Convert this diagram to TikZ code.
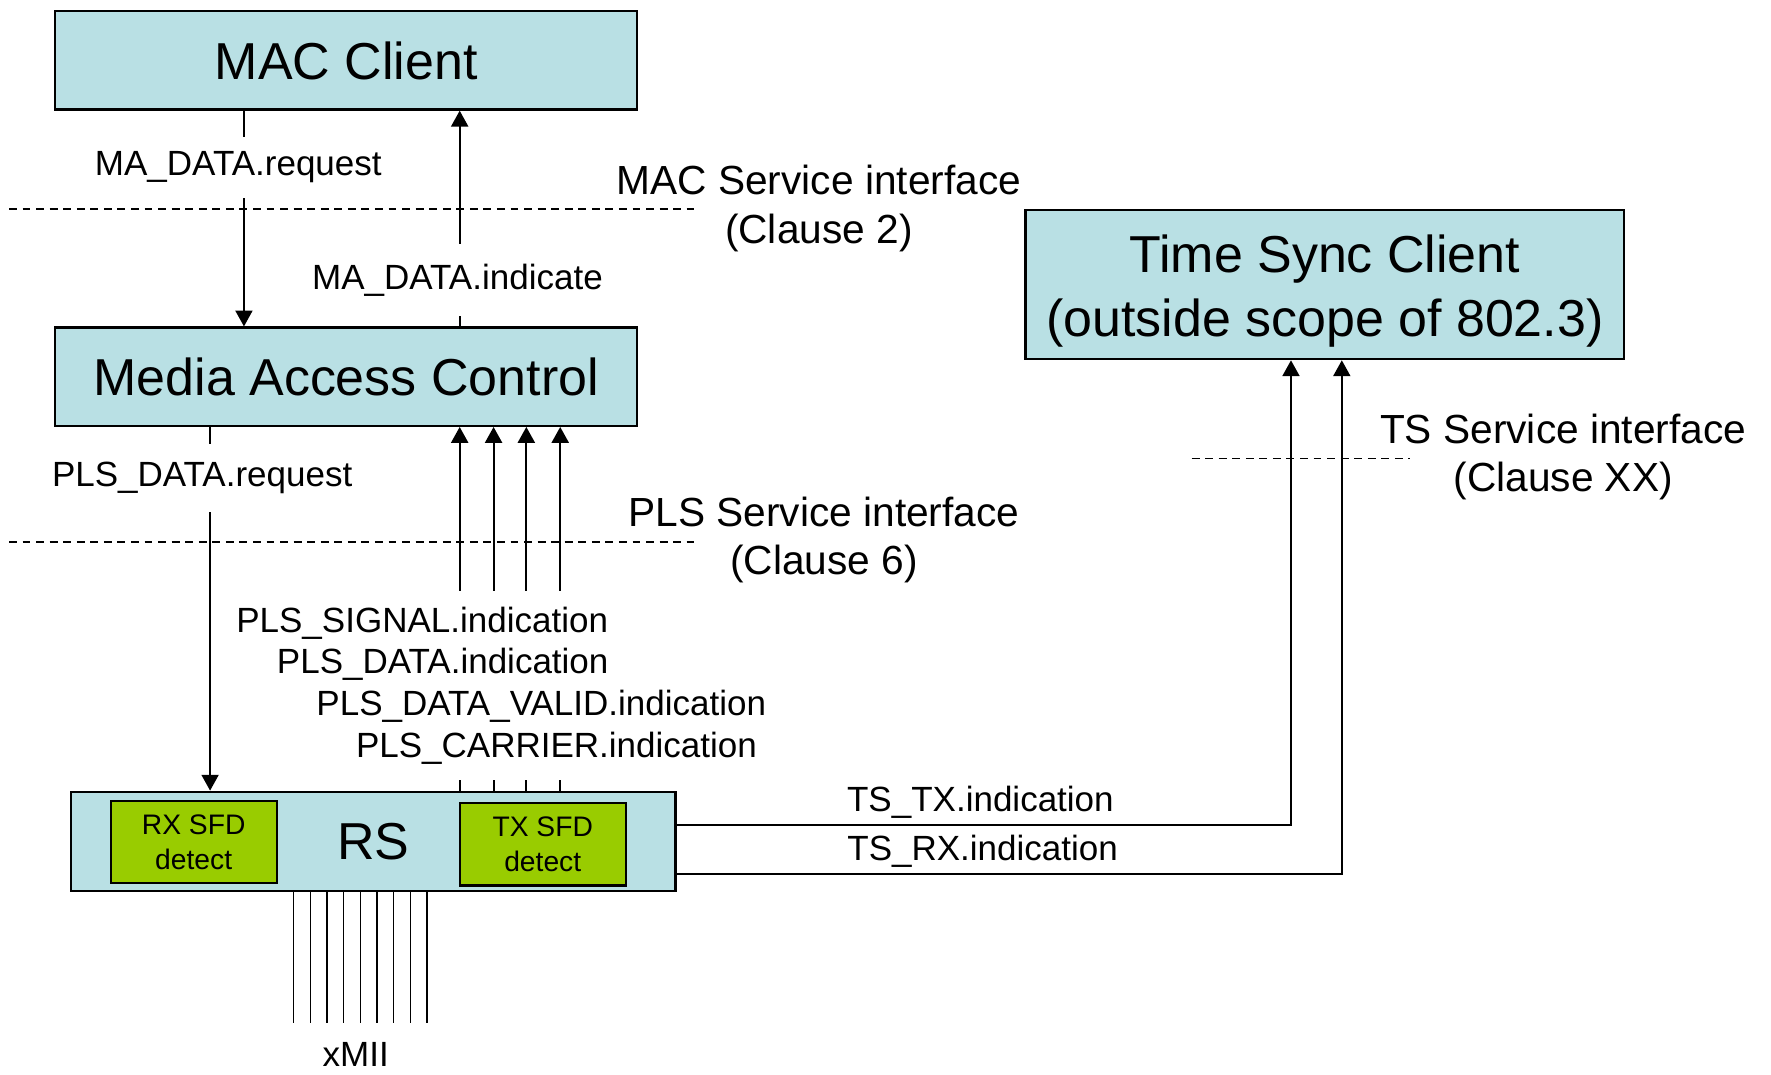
\documentclass[tikz,border=0pt]{standalone}
\usepackage{fontspec}
\setmainfont{Liberation Sans}
\usetikzlibrary{arrows.meta}
\definecolor{boxblue}{RGB}{185,224,228}
\definecolor{sfdgreen}{RGB}{153,204,0}
\tikzset{
 blockbox/.style={draw=black, line width=2pt, fill=boxblue, inner sep=0pt, align=center, font=\fontsize{46}{57}\selectfont},
 sfdbox/.style={draw=black, line width=2pt, fill=sfdgreen, minimum width=147pt, minimum height=73pt, inner sep=0pt, align=center, font=\fontsize{25}{31}\selectfont},
 conn/.style={line width=1.8pt},
 arr/.style={conn, -{Triangle[length=14pt,width=15pt]}},
 ifline/.style={line width=1.5pt, dash pattern=on 7pt off 5pt},
 sig/.style={font=\fontsize{31}{37}\selectfont, inner sep=0pt},
 sigmask/.style={sig, fill=white},
 iflabel/.style={font=\fontsize{36}{43}\selectfont, align=center, inner sep=0pt},
 bus/.style={line width=1.3pt}
}
\begin{document}
\begin{tikzpicture}[x=1pt,y=-1pt]
\useasboundingbox (0,0) rectangle (1568,951);
\fill[white] (0,0) rectangle (1568,951);

% blocks
\node[blockbox, minimum width=515pt, minimum height=87pt] (mac) at (306.5,53.5) {MAC Client};
\node[blockbox, minimum width=515pt, minimum height=87pt] (media) at (306.5,333.5) {Media Access Control};
\node[blockbox, minimum width=530pt, minimum height=132pt] (tsc) at (1173,252) {\rule{0pt}{45pt}Time Sync Client\\(outside scope of 802.3)};
\node[blockbox, minimum width=535pt, minimum height=88pt] (rs) at (330.5,745) {RS};
\node[sfdbox] (rx) at (171.5,745.5) {RX SFD\\detect};
\node[sfdbox] (tx) at (480.5,747.5) {TX SFD\\detect};

% helper coordinates
\coordinate (xreq) at (216,0);
\coordinate (xind) at (407,0);
\coordinate (xpreq) at (186,0);
\coordinate (xs1) at (407,0);
\coordinate (xs2) at (437,0);
\coordinate (xs3) at (466,0);
\coordinate (xs4) at (496,0);
\coordinate (ytx) at (0,730);
\coordinate (yrx) at (0,774);
\coordinate (xtx) at (1143,0);
\coordinate (xrx) at (1188,0);

% interface dashed lines
\coordinate (macL) at (8,185);
\coordinate (macR) at (614,185);
\coordinate (plsL) at (8,480);
\coordinate (plsR) at (614,480);
\coordinate (tsL) at (1055,406);
\coordinate (tsR) at (1248,406);
\draw[ifline] (macL) -- (macR);
\draw[ifline] (plsL) -- (plsR);
\draw[ifline] (tsL) -- (tsR);

% connectors
\draw[arr] (mac.south -| xreq) -- (media.north -| xreq);
\draw[arr] (media.north -| xind) -- (mac.south -| xind);
\draw[arr] (media.south -| xpreq) -- (rs.north -| xpreq);
\foreach \k in {1,2,3,4} {
  \draw[arr] (rs.north -| xs\k) -- (media.south -| xs\k);
}
\draw[arr] (rs.east |- ytx) -| (tsc.south -| xtx);
\draw[arr] (rs.east |- yrx) -| (tsc.south -| xrx);

% xMII bus
\foreach \i in {0,...,8} {
  \coordinate (bx\i) at ({260+14.75*\i},906);
  \draw[bus] (rs.south -| bx\i) -- (bx\i);
}
\node[sig] (xmii) at (315,934) {xMII};

% signal labels (masking the connectors)
\node[sigmask, minimum height=54pt] (lreq) at (211,148) {MA\_DATA.request};
\node[sigmask, minimum height=64pt] (lind) at (405,248) {MA\_DATA.indicate};
\node[sigmask, minimum height=60pt] (lpreq) at (179,423) {PLS\_DATA.request};
\node[sigmask, align=left, anchor=west, minimum height=167pt] (lpls) at (209,607)
 {PLS\_SIGNAL.indication\\\hspace*{36pt}PLS\_DATA.indication\\\hspace*{71pt}PLS\_DATA\_VALID.indication\\\hspace*{106pt}PLS\_CARRIER.indication};
\node[sig] (ltx) at (868,710) {TS\_TX.indication};
\node[sig] (lrx) at (870,754) {TS\_RX.indication};

% interface labels
\node[iflabel] (lmacif) at (725,184.5) {MAC Service interface\\(Clause 2)};
\node[iflabel] (lplsif) at (729.5,478) {PLS Service interface\\(Clause 6)};
\node[iflabel] (ltsif) at (1384,404.5) {TS Service interface\\(Clause XX)};
\end{tikzpicture}
\end{document}
